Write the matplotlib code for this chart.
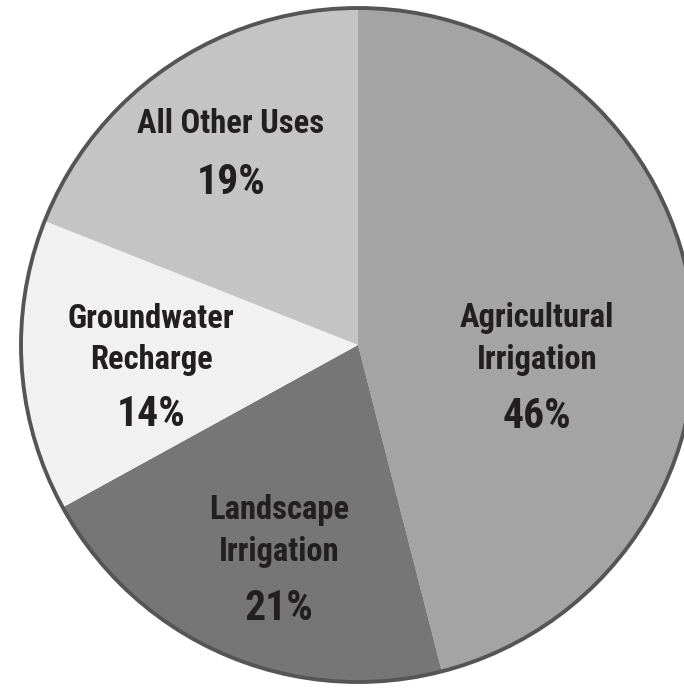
import matplotlib.pyplot as plt
from matplotlib.patches import Circle

# slices, clockwise from 12 o'clock
labels = ['Agricultural\nIrrigation', 'Landscape\nIrrigation', 'Groundwater\nRecharge', 'All Other Uses']
shares = [46, 21, 14, 19]
colors = ['#a4a4a4', '#767676', '#f1f1f1', '#c4c4c4']

# label anchors in pixel coords (x, y from top)
label_pos = [(537, 339), (279, 531), (151, 339), (231, 124)]
pct_pos = [(537, 416), (279, 608), (151, 415), (231, 183)]

W, H = 684, 688
fig = plt.figure(figsize=(W / 100, H / 100), dpi=100)
ax = fig.add_axes((0, 0, 1, 1))

cx, cy, r = 358, H - 345, 337
ax.pie(shares, colors=colors, startangle=90, counterclock=False,
       center=(cx, cy), radius=r, frame=True,
       wedgeprops=dict(linewidth=0))
ax.add_patch(Circle((cx, cy), r, fill=False, edgecolor='#555555', linewidth=2.8))
ax.set_xlim(0, W)
ax.set_ylim(0, H)
ax.axis('off')

font = ['Roboto Condensed', 'Roboto', 'DejaVu Sans']
for lab, v, (lx, ly), (px, py) in zip(labels, shares, label_pos, pct_pos):
    ax.text(lx, H - ly, lab, ha='center', va='center', fontsize=23.5,
            fontweight='bold', family=font, color='#231f20', linespacing=1.36)
    ax.text(px, H - py, f'{v}%', ha='center', va='center', fontsize=30,
            fontweight='bold', family=font, color='#231f20')

plt.savefig('out.png', dpi=100)
